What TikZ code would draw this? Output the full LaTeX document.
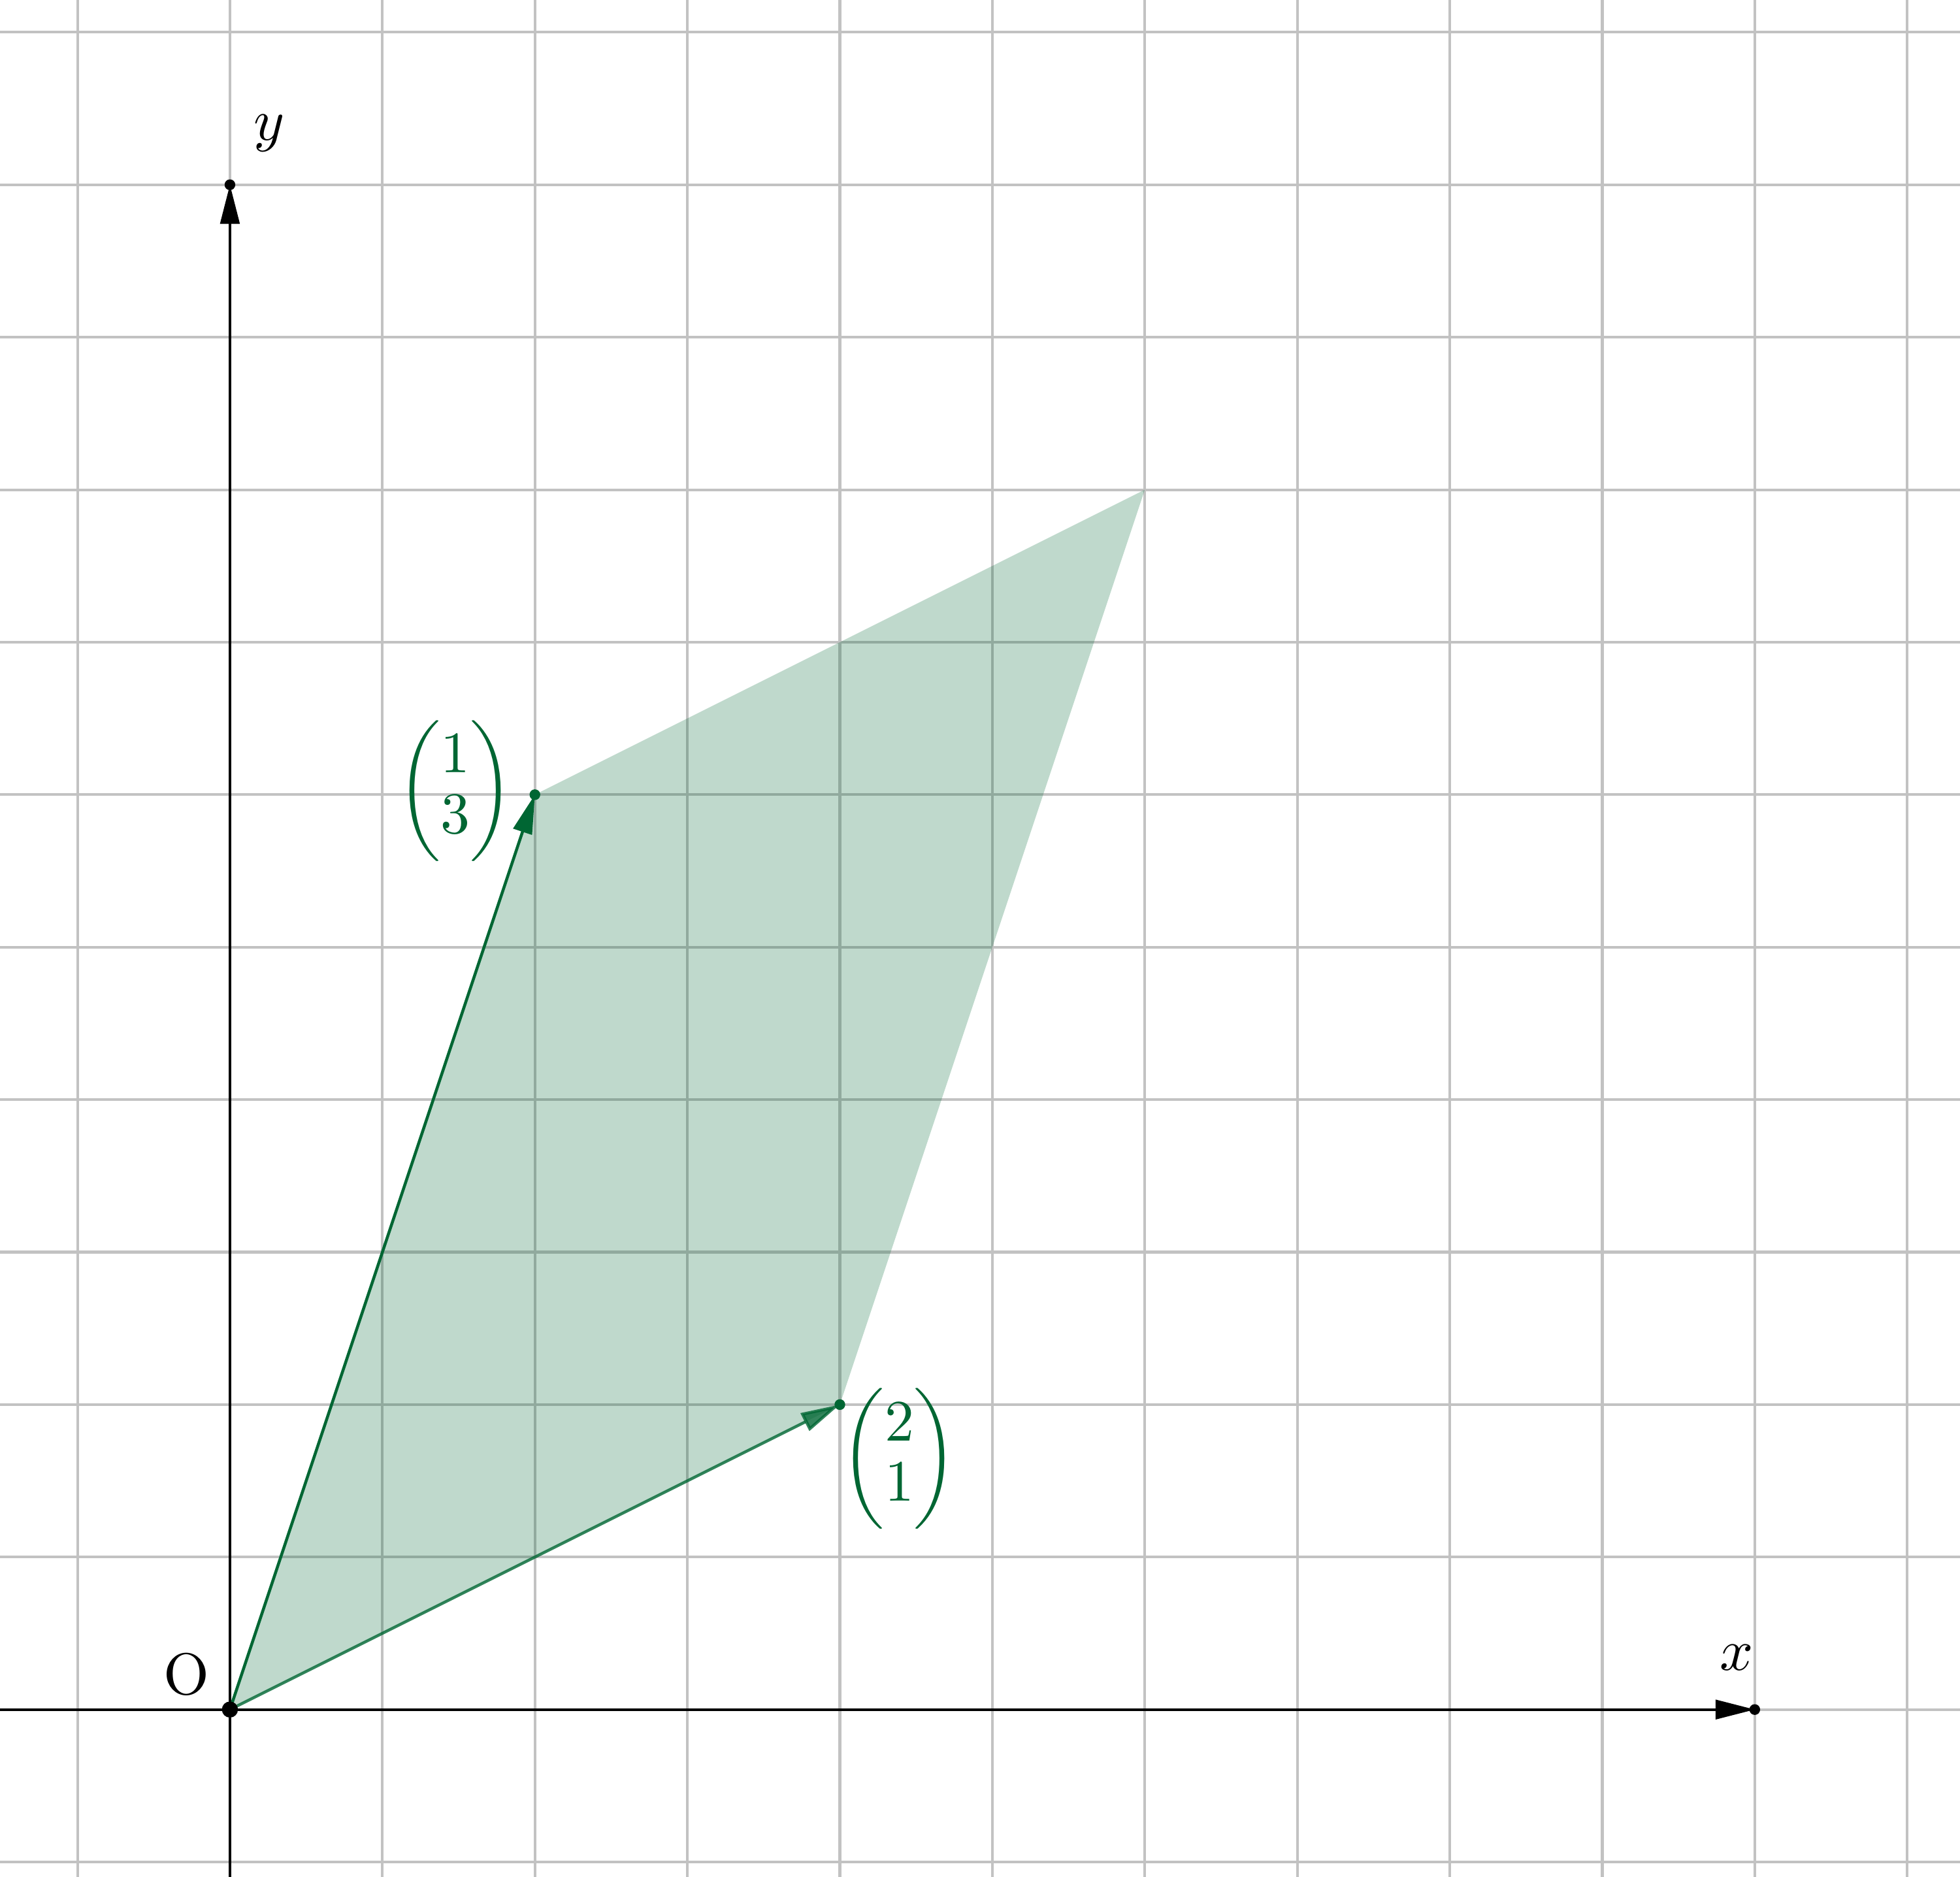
\documentclass[11pt,tikz,border=0pt]{standalone}
\usepackage{amsmath}
\usepackage{xcolor}
\usepackage{tikz}
\usetikzlibrary{arrows.meta}
\definecolor{vecgreen}{HTML}{006633}
\renewcommand{\arraystretch}{0.83}

\begin{document}
\begin{tikzpicture}[scale=2,
    axis/.style={line width=0.45pt, -{Triangle[length=7.3pt, width=3.6pt]}},
    vec/.style={vecgreen, line width=0.55pt, -{Triangle[length=7.3pt, width=3.6pt]}}]
    \useasboundingbox (-0.754,-0.549) rectangle (5.673,5.606);
    \clip (-0.754,-0.549) rectangle (5.673,5.606);
    \draw[step=0.5, gray!48, line width=0.5pt] (-1,-1) grid (6,6);
    \coordinate (O) at (0,0);
    \coordinate (u) at (2,1);
    \coordinate (v) at (1,3);
    \coordinate (w) at (3,4);
    \coordinate (xstart) at (-0.8,0);
    \coordinate (xend) at (5,0);
    \coordinate (ystart) at (0,-0.6);
    \coordinate (yend) at (0,5);
    \fill[vecgreen, opacity=0.25] (O) -- (u) -- (w) -- (v) -- cycle;
    \draw[axis] (xstart) -- (xend);
    \draw[axis] (ystart) -- (yend);
    \draw[vec, opacity=0.8] (O) -- (u);
    \draw[vec] (O) -- (v);
    \foreach \p in {xend, yend}
    {
        \fill (\p) circle (0.5pt);
    }
    \foreach \p in {u, v}
    {
        \fill[vecgreen] (\p) circle (0.5pt);
    }
    \fill (O) circle (0.75pt);
    \node (olabel) at (-0.143,0.115) {O};
    \node (xlabel) at (4.94,0.17) {$x$};
    \node (ylabel) at (0.13,5.17) {$y$};
    \node[vecgreen] (ulabel) at (2.195,0.822) {$\begin{pmatrix}2\\1\end{pmatrix}$};
    \node[vecgreen] (vlabel) at (0.739,3.013) {$\begin{pmatrix}1\\3\end{pmatrix}$};
\end{tikzpicture}
\end{document}
